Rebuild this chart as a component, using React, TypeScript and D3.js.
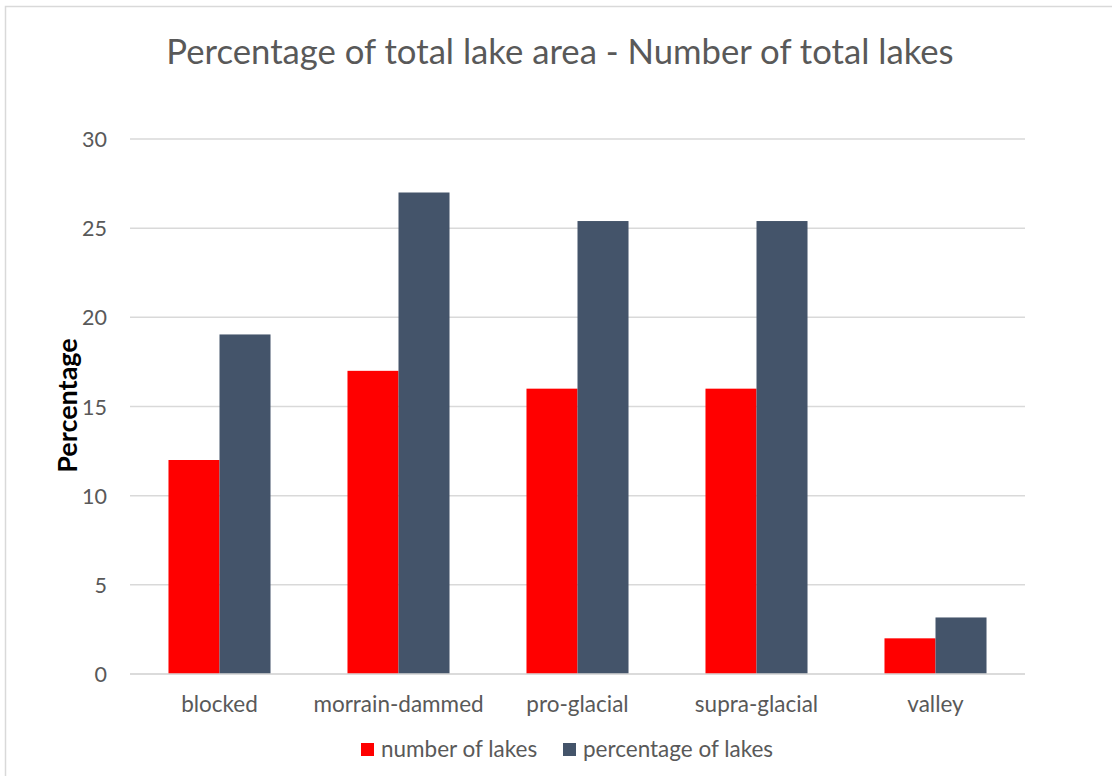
import React from "react";
import * as d3 from "d3";

const categories = ["blocked", "morrain-dammed", "pro-glacial", "supra-glacial", "valley"];
const numberOfLakes = [12, 17, 16, 16, 2];
const percentageOfLakes = [19.04, 27, 25.4, 25.4, 3.17];
const yTicks = [0, 5, 10, 15, 20, 25, 30];
const seriesNames = ["number of lakes", "percentage of lakes"];
const seriesColors = ["#ff0000", "#44546a"];

const W = 1112;
const H = 776;
const FONT = "Lato, 'Open Sans', sans-serif";

export default function App() {
  const left = 130;
  const right = 1025;
  const top = 139;
  const bottom = 674;

  const x = d3.scaleBand<string>().domain(categories).range([left, right]).paddingInner(0.43).paddingOuter(0.215);
  const inner = d3.scaleBand<number>().domain([0, 1]).range([0, x.bandwidth()]);
  const y = d3.scaleLinear().domain([0, 30]).range([bottom, top]);

  const series = [numberOfLakes, percentageOfLakes];

  return (
    <svg width={W} height={H} style={{ position: "absolute", left: 0, top: 0 }}>
      <rect x={0} y={0} width={W} height={H} fill="#fff" />
      <rect x={5.5} y={6.5} width={W} height={H} fill="none" stroke="#d9d9d9" strokeWidth={1.5} />
      <text x={560} y={64} textAnchor="middle" fontFamily={FONT} fontSize={34.7} fill="#595959">
        Percentage of total lake area - Number of total lakes
      </text>
      {yTicks.map((t) => (
        <g key={t}>
          <line x1={left} x2={right} y1={y(t)} y2={y(t)} stroke="#d9d9d9" strokeWidth={1.5} />
          <text x={107} y={y(t) + 8} textAnchor="end" fontFamily={FONT} fontSize={21.5} fill="#595959">
            {t}
          </text>
        </g>
      ))}
      {categories.map((c, i) => (
        <g key={c}>
          {series.map((s, j) => (
            <rect
              key={j}
              x={(x(c) as number) + (inner(j) as number)}
              y={y(s[i])}
              width={inner.bandwidth()}
              height={y(0) - y(s[i])}
              fill={seriesColors[j]}
            />
          ))}
          <text
            x={(x(c) as number) + x.bandwidth() / 2}
            y={712}
            textAnchor="middle"
            fontFamily={FONT}
            fontSize={22.5}
            fill="#595959"
          >
            {c}
          </text>
        </g>
      ))}
      <line x1={left} x2={right} y1={y(0)} y2={y(0)} stroke="#d9d9d9" strokeWidth={1.5} />
      <text
        transform={`translate(77, 405.5) rotate(-90)`}
        textAnchor="middle"
        fontFamily={FONT}
        fontSize={27}
        fontWeight="bold"
        fill="#000"
      >
        Percentage
      </text>
      {seriesNames.map((n, j) => {
        const lx = j === 0 ? 361 : 563;
        return (
          <g key={n}>
            <rect x={lx} y={743} width={13} height={13} fill={seriesColors[j]} />
            <text x={lx + 20} y={757} fontFamily={FONT} fontSize={22.5} fill="#595959">
              {n}
            </text>
          </g>
        );
      })}
    </svg>
  );
}
